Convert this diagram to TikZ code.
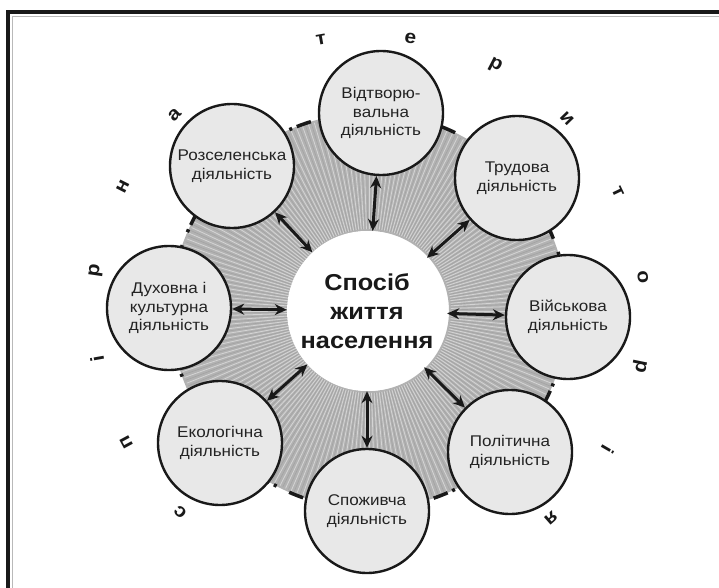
\documentclass[tikz,border=0pt]{standalone}
\usepackage{fontspec}
\setmainfont{Liberation Sans}[FakeStretch=1.1]
\usepackage{tikz}
\usetikzlibrary{arrows.meta, calc}
\definecolor{mydark}{RGB}{25,25,25}
\definecolor{mytext}{RGB}{35,35,35}
\definecolor{hdrgray}{RGB}{232,232,232}
\definecolor{ringgray}{RGB}{178,178,178}
\tikzset{
  actnode/.style={circle, draw=mydark, fill=hdrgray, minimum size=124pt,
    inner sep=0pt, align=center, text=mytext,
    font=\fontsize{15.5}{18.5}\selectfont, line width=2.4pt},
  hubnode/.style={circle, fill=white, minimum size=160pt, inner sep=0pt,
    align=center, text=mydark, font=\fontsize{23}{29}\selectfont\bfseries},
  arrow/.style={{Stealth[length=12pt,width=11pt]}-{Stealth[length=12pt,width=11pt]},
    line width=3pt, color=mydark},
  letter/.style={font=\fontsize{19}{19}\selectfont\bfseries, text=mydark}
}

\begin{document}
\begin{tikzpicture}[x=1pt, y=1pt]
  \useasboundingbox (0,0) rectangle (719,587);
  % frame
  \draw[mydark, line width=4.5pt] (8,-20) -- (8,575) -- (740,575);
  \draw[gray!55, line width=1.2pt] (12.5,-20) -- (12.5,570.5) -- (740,570.5);

  \coordinate (mid) at (369,276);

  % grey ring
  \fill[ringgray, even odd rule] (mid) circle (198pt) (mid) circle (80pt);
  \foreach \a in {0,1.8,...,358.2}
    \draw[white, opacity=0.45, line width=0.8pt] ($(mid)+(\a:82pt)$) -- ($(mid)+(\a:196pt)$);
  \foreach \a in {0.9,2.7,...,359.1}
    \draw[black!50, opacity=0.3, line width=0.6pt] ($(mid)+(\a:82pt)$) -- ($(mid)+(\a:196pt)$);
  \draw[mydark, line width=3.5pt, dash pattern=on 15pt off 5pt on 3pt off 14pt] (mid) circle (198pt);

  \node[hubnode] (hub) at (367,276) {Спосіб\\життя\\населення};

  \node[actnode] (a1) at (381,474) {Відтворю-\\вальна\\діяльність};
  \node[actnode] (a2) at (517,409) {Трудова\\діяльність};
  \node[actnode] (a3) at (568,270) {Військова\\діяльність};
  \node[actnode] (a4) at (510,135) {Політична\\діяльність};
  \node[actnode] (a5) at (367,76) {Споживча\\діяльність};
  \node[actnode] (a6) at (220,144) {Екологічна\\діяльність};
  \node[actnode] (a7) at (169,279) {Духовна і\\культурна\\діяльність};
  \node[actnode] (a8) at (232,421) {Розселенська\\діяльність};

  \foreach \n in {1,...,8}
    \draw[arrow] (a\n) -- (hub);

  % letters round the ring
  \foreach \ch/\ang [count=\i] in {т/100, е/81.4, р/62.8, и/44.2, т/25.6, о/7, р/-11.6, і/-30.2, я/-48.8}
    \node[letter, rotate=\ang-90] (t\i) at ($(mid)+(\ang:276pt)$) {\ch};
  \foreach \ch/\ang [count=\i] in {с/226.8, п/208.4, і/190, р/171.6, н/153.2, а/134.8}
    \node[letter, rotate=\ang-90] (s\i) at ($(mid)+(\ang:276pt)$) {\ch};
\end{tikzpicture}
\end{document}
